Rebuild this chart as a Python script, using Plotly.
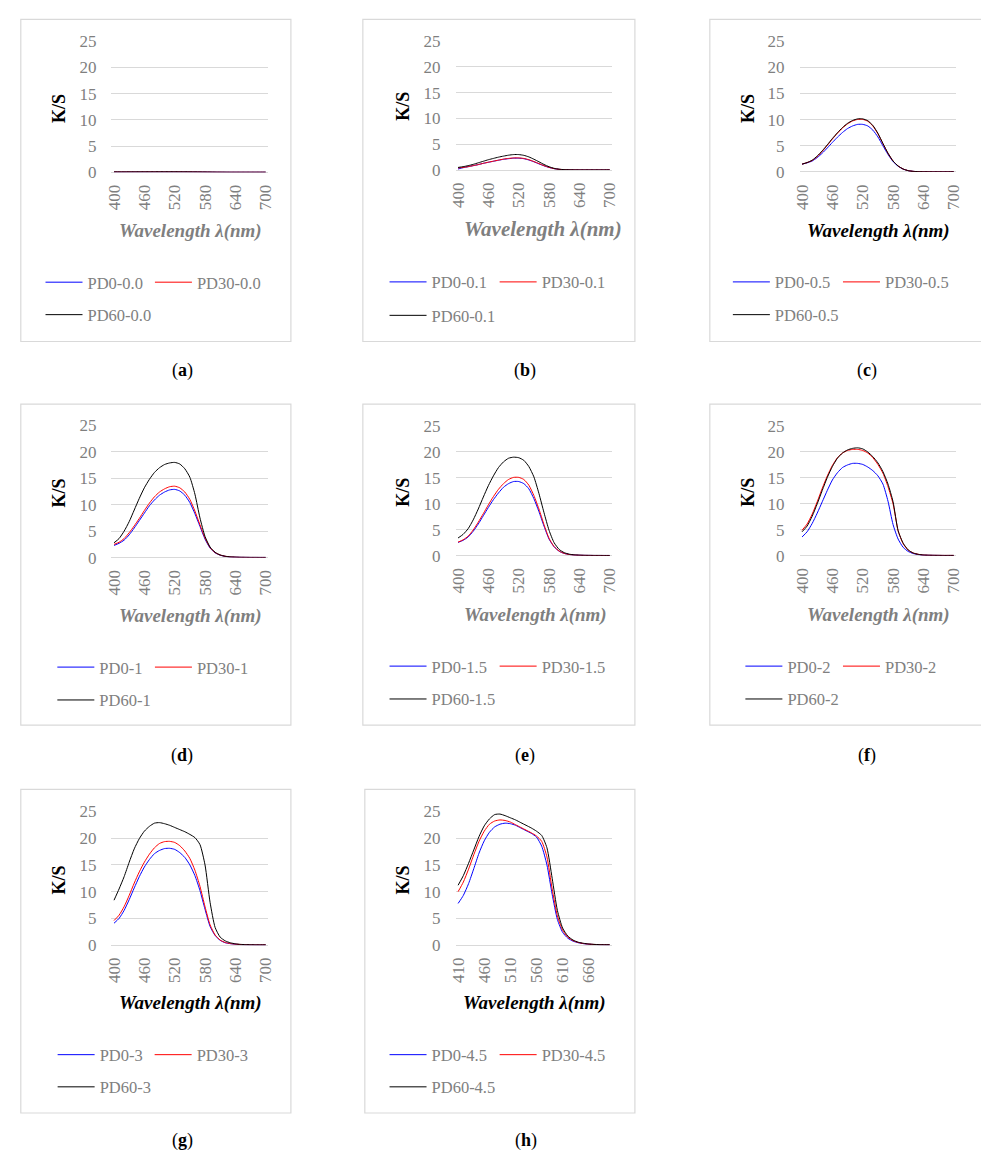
import plotly.graph_objects as go

W, H = 981, 1164

# Wavelength categories (nm)
wl = [400, 410, 420, 430, 440, 450, 460, 470, 480, 490, 500, 510, 520, 530, 540, 550,
      560, 570, 580, 590, 600, 610, 620, 630, 640, 650, 660, 670, 680, 690, 700]
wl_h = wl[1:]

ticks_std = [400, 460, 520, 580, 640, 700]
ticks_h = [410, 460, 510, 560, 610, 660]

# K/S values, one list per sample
a_pd0 = [0.05, 0.05, 0.05, 0.06, 0.06, 0.06, 0.06, 0.07, 0.07, 0.07, 0.07, 0.07, 0.07, 0.07, 0.07, 0.06,
         0.06, 0.05, 0.04, 0.03, 0.02, 0.02, 0.01, 0.01, 0.01, 0.01, 0.01, 0.01, 0.01, 0.01, 0.01]
a_pd30 = [0.06, 0.06, 0.06, 0.07, 0.07, 0.07, 0.08, 0.08, 0.08, 0.08, 0.08, 0.08, 0.08, 0.08, 0.07, 0.07,
          0.06, 0.05, 0.04, 0.03, 0.02, 0.02, 0.01, 0.01, 0.01, 0.01, 0.01, 0.01, 0.01, 0.01, 0.01]
a_pd60 = [0.07, 0.07, 0.07, 0.08, 0.08, 0.09, 0.09, 0.09, 0.09, 0.10, 0.10, 0.10, 0.10, 0.09, 0.09, 0.08,
          0.07, 0.06, 0.05, 0.04, 0.03, 0.02, 0.02, 0.01, 0.01, 0.01, 0.01, 0.01, 0.01, 0.01, 0.01]

b_pd0 = [0.20, 0.45, 0.65, 0.85, 1.05, 1.30, 1.50, 1.70, 1.90, 2.08, 2.20, 2.30, 2.30, 2.20, 1.95, 1.60,
         1.20, 0.82, 0.50, 0.26, 0.13, 0.07, 0.04, 0.03, 0.02, 0.02, 0.02, 0.02, 0.02, 0.02, 0.02]
b_pd30 = [0.40, 0.50, 0.65, 0.85, 1.05, 1.30, 1.52, 1.72, 1.92, 2.12, 2.25, 2.35, 2.35, 2.25, 2.00, 1.65,
          1.25, 0.85, 0.52, 0.27, 0.14, 0.07, 0.04, 0.03, 0.02, 0.02, 0.02, 0.02, 0.02, 0.02, 0.02]
b_pd60 = [0.50, 0.65, 0.85, 1.10, 1.40, 1.70, 2.00, 2.25, 2.50, 2.70, 2.88, 3.00, 3.00, 2.85, 2.55, 2.10,
          1.60, 1.08, 0.64, 0.33, 0.16, 0.08, 0.05, 0.03, 0.02, 0.02, 0.02, 0.02, 0.02, 0.02, 0.02]

c_pd0 = [1.50, 1.75, 2.10, 2.75, 3.60, 4.60, 5.65, 6.65, 7.55, 8.30, 8.80, 9.10, 9.10, 8.80, 8.00, 6.70,
         5.00, 3.35, 2.00, 1.10, 0.55, 0.25, 0.12, 0.06, 0.04, 0.03, 0.02, 0.02, 0.02, 0.02, 0.02]
c_pd30 = [1.50, 1.80, 2.20, 2.95, 3.95, 5.10, 6.30, 7.40, 8.40, 9.20, 9.75, 10.05, 10.05, 9.70, 8.80, 7.30,
          5.40, 3.55, 2.10, 1.15, 0.57, 0.26, 0.12, 0.06, 0.04, 0.03, 0.02, 0.02, 0.02, 0.02, 0.02]
c_pd60 = [1.50, 1.80, 2.25, 3.05, 4.05, 5.20, 6.40, 7.50, 8.50, 9.30, 9.85, 10.15, 10.15, 9.80, 8.90, 7.40,
          5.45, 3.60, 2.10, 1.15, 0.57, 0.26, 0.12, 0.06, 0.04, 0.03, 0.02, 0.02, 0.02, 0.02, 0.02]

d_pd0 = [2.30, 2.70, 3.30, 4.30, 5.60, 7.00, 8.40, 9.80, 10.90, 11.80, 12.40, 12.80, 12.90, 12.60, 11.80, 10.40,
         8.30, 5.90, 3.50, 1.80, 0.90, 0.45, 0.23, 0.12, 0.08, 0.05, 0.04, 0.03, 0.03, 0.03, 0.03]
d_pd30 = [2.50, 2.90, 3.60, 4.70, 6.00, 7.40, 8.90, 10.30, 11.50, 12.40, 13.00, 13.40, 13.50, 13.20, 12.40, 11.00,
          8.80, 6.20, 3.70, 1.90, 0.95, 0.48, 0.25, 0.13, 0.08, 0.05, 0.04, 0.03, 0.03, 0.03, 0.03]
d_pd60 = [2.80, 3.60, 5.00, 6.80, 9.00, 11.20, 13.20, 14.80, 16.10, 17.00, 17.60, 17.90, 18.00, 17.70, 16.80, 15.20,
          12.00, 7.50, 4.00, 2.00, 1.00, 0.50, 0.25, 0.14, 0.09, 0.06, 0.05, 0.04, 0.04, 0.03, 0.03]

e_pd0 = [2.55, 2.95, 3.60, 4.70, 6.10, 7.70, 9.30, 10.80, 12.10, 13.20, 13.90, 14.30, 14.30, 13.90, 12.90, 11.00,
         8.50, 5.70, 3.20, 1.70, 0.85, 0.42, 0.22, 0.12, 0.08, 0.05, 0.04, 0.03, 0.03, 0.03, 0.03]
e_pd30 = [2.60, 3.05, 3.75, 4.95, 6.45, 8.10, 9.80, 11.40, 12.80, 13.90, 14.70, 15.10, 15.10, 14.70, 13.60, 11.60,
          9.00, 6.00, 3.35, 1.75, 0.88, 0.43, 0.22, 0.12, 0.08, 0.05, 0.04, 0.03, 0.03, 0.03, 0.03]
e_pd60 = [3.40, 4.10, 5.20, 6.90, 9.00, 11.30, 13.50, 15.40, 17.00, 18.10, 18.80, 19.00, 18.90, 18.40, 17.20, 15.20,
          12.00, 8.30, 4.90, 2.50, 1.20, 0.58, 0.28, 0.15, 0.09, 0.06, 0.05, 0.04, 0.04, 0.03, 0.03]

f_pd0 = [3.60, 4.60, 6.20, 8.20, 10.40, 12.60, 14.60, 16.00, 17.00, 17.50, 17.80, 17.80, 17.60, 17.10, 16.40, 15.40,
         13.80, 10.50, 6.00, 3.20, 1.60, 0.80, 0.40, 0.20, 0.10, 0.07, 0.05, 0.04, 0.03, 0.03, 0.03]
f_pd30 = [4.90, 6.10, 8.00, 10.40, 13.00, 15.40, 17.40, 18.90, 19.80, 20.30, 20.50, 20.50, 20.30, 19.80, 18.90, 17.60,
          15.90, 13.30, 10.00, 4.80, 2.30, 1.05, 0.50, 0.25, 0.12, 0.08, 0.06, 0.05, 0.04, 0.04, 0.04]
f_pd60 = [4.60, 5.70, 7.60, 10.00, 12.60, 15.10, 17.20, 18.80, 19.80, 20.40, 20.70, 20.80, 20.60, 20.00, 19.10, 17.90,
          16.20, 13.80, 10.40, 4.80, 2.40, 1.10, 0.50, 0.25, 0.12, 0.08, 0.06, 0.05, 0.04, 0.04, 0.04]

g_pd0 = [4.10, 5.00, 6.50, 8.50, 10.70, 12.80, 14.60, 16.00, 17.10, 17.70, 18.05, 18.10, 17.90, 17.30, 16.40, 15.00,
         13.00, 10.20, 6.70, 3.50, 1.80, 0.90, 0.45, 0.28, 0.18, 0.10, 0.07, 0.05, 0.04, 0.04, 0.04]
g_pd30 = [4.60, 5.60, 7.20, 9.30, 11.60, 13.70, 15.50, 17.00, 18.20, 19.00, 19.35, 19.40, 19.20, 18.60, 17.60, 16.20,
          14.00, 11.00, 7.20, 3.80, 1.90, 0.95, 0.50, 0.30, 0.20, 0.12, 0.08, 0.06, 0.05, 0.05, 0.05]
g_pd60 = [8.40, 10.50, 12.80, 15.50, 18.00, 19.90, 21.30, 22.20, 22.80, 22.90, 22.70, 22.40, 22.00, 21.60, 21.20, 20.70,
          20.10, 18.80, 15.00, 8.00, 3.30, 1.50, 0.80, 0.45, 0.25, 0.15, 0.10, 0.08, 0.06, 0.05, 0.05]

h_pd0 = [7.80, 9.30, 11.50, 14.30, 17.20, 19.50, 21.10, 22.10, 22.60, 22.80, 22.70, 22.40, 21.90, 21.40, 20.90,
         20.20, 18.50, 15.00, 9.50, 4.80, 2.40, 1.30, 0.75, 0.45, 0.28, 0.18, 0.12, 0.08, 0.06, 0.05]
h_pd30 = [10.00, 11.80, 14.20, 16.90, 19.40, 21.30, 22.60, 23.20, 23.40, 23.30, 23.00, 22.50, 22.00, 21.50, 21.00,
          20.40, 19.40, 16.50, 10.50, 5.50, 2.80, 1.50, 0.85, 0.50, 0.30, 0.20, 0.13, 0.09, 0.07, 0.06]
h_pd60 = [11.20, 13.00, 15.30, 17.80, 20.30, 22.30, 23.60, 24.40, 24.50, 24.20, 23.80, 23.40, 22.90, 22.40, 21.90,
          21.30, 20.50, 18.20, 12.50, 6.50, 3.20, 1.70, 0.95, 0.55, 0.35, 0.22, 0.15, 0.10, 0.08, 0.07]

SERIES_COLORS = ["#0000FF", "#FF0000", "#000000"]
GRID = "#D9D9D9"
TICK_GRAY = "#7F7F7F"
FONT = "Liberation Serif"

# Panel layout in pixels
panels = [
    dict(tag="a", suffix="0.0", x=wl, data=[a_pd0, a_pd30, a_pd60], ticks=ticks_std,
         box=(14, 10.5, 288, 338), plot=(106, 32.7, 265, 166),
         ks=(52.7, 100.7), wave=(186, 226, 19, TICK_GRAY), lab=(178, 367),
         leg=(46, 157, 278, 311)),
    dict(tag="b", suffix="0.1", x=wl, data=[b_pd0, b_pd30, b_pd60], ticks=ticks_std,
         box=(361, 10.5, 637, 338), plot=(455, 32.7, 614, 163.7),
         ks=(401.7, 98.3), wave=(543.5, 223.3, 21, TICK_GRAY), lab=(526, 367),
         leg=(395, 506.7, 277.7, 311.7)),
    dict(tag="c", suffix="0.5", x=wl, data=[c_pd0, c_pd30, c_pd60], ticks=ticks_std,
         box=(713, 10.5, 995, 338), plot=(804, 32.7, 963, 165.7),
         ks=(751.7, 100.7), wave=(884, 226, 19, "#000000"), lab=(872, 367),
         leg=(743.3, 855, 277.7, 311)),
    dict(tag="d", suffix="1", x=wl, data=[d_pd0, d_pd30, d_pd60], ticks=ticks_std,
         box=(14, 401.7, 288, 728), plot=(106, 423.3, 265, 557.7),
         ks=(52.7, 491.7), wave=(186, 617.3, 19, TICK_GRAY), lab=(178, 759),
         leg=(58, 157, 669.3, 702.7)),
    dict(tag="e", suffix="1.5", x=wl, data=[e_pd0, e_pd30, e_pd60], ticks=ticks_std,
         box=(361, 401.7, 637, 728), plot=(455, 424, 614, 555.7),
         ks=(401.7, 490.7), wave=(535.7, 616, 19, TICK_GRAY), lab=(526, 759),
         leg=(395, 506.7, 668.3, 701.7)),
    dict(tag="f", suffix="2", x=wl, data=[f_pd0, f_pd30, f_pd60], ticks=ticks_std,
         box=(713, 401.7, 995, 728), plot=(804, 424, 963, 555.7),
         ks=(751.7, 490.7), wave=(884, 616, 19, TICK_GRAY), lab=(872, 759),
         leg=(756, 855, 668.3, 701.7)),
    dict(tag="g", suffix="3", x=wl, data=[g_pd0, g_pd30, g_pd60], ticks=ticks_std,
         box=(14, 793.3, 288, 1122.3), plot=(106, 815.7, 265, 951.7),
         ks=(52.7, 885), wave=(186, 1010, 19, "#000000"), lab=(178, 1150),
         leg=(58.3, 156.7, 1063.3, 1096)),
    dict(tag="h", suffix="4.5", x=wl_h, data=[h_pd0, h_pd30, h_pd60], ticks=ticks_h,
         box=(363, 793.3, 637, 1122.3), plot=(455, 815.7, 614, 951.7),
         ks=(401.7, 885), wave=(535, 1010, 19, "#000000"), lab=(527, 1150),
         leg=(395, 506.7, 1063.3, 1096)),
]


def px(x):
    return x / W


def py(y):
    return 1 - y / H


fig = go.Figure()
shapes, annotations = [], []
layout_axes = {}
legend_defs = {}
leg_count = 0

for i, p in enumerate(panels):
    n = "" if i == 0 else str(i + 1)
    xa, ya = "x" + n, "y" + n
    x0, y0, x1, y1 = p["plot"]
    step = p["x"][1] - p["x"][0]
    layout_axes["xaxis" + n] = dict(
        domain=[px(x0), px(x1)], anchor=ya,
        range=[p["x"][0] - step / 2, p["x"][-1] + step / 2],
        tickmode="array", tickvals=p["ticks"], ticktext=[str(t) for t in p["ticks"]],
        tickangle=-90, showgrid=False, showline=False, zeroline=False, ticks="",
        tickfont=dict(family=FONT, size=17, color=TICK_GRAY), ticklabelstandoff=8,
        fixedrange=True,
    )
    layout_axes["yaxis" + n] = dict(
        domain=[py(y1), py(y0)], anchor=xa, range=[0, 25], dtick=5, tick0=0,
        showgrid=True, gridcolor=GRID, gridwidth=1.3, zeroline=True, zerolinecolor=GRID,
        zerolinewidth=1.3, showline=False, ticks="",
        tickfont=dict(family=FONT, size=17, color=TICK_GRAY), ticklabelstandoff=14,
        fixedrange=True,
    )

    lx0, lx1, ly0, ly1 = p["leg"]
    positions = [(lx0, ly0), (lx1, ly0), (lx0, ly1)]
    names = ["PD0-", "PD30-", "PD60-"]
    for k, (vals, col, nm) in enumerate(zip(p["data"], SERIES_COLORS, names)):
        leg_count += 1
        lkey = "legend" if leg_count == 1 else "legend" + str(leg_count)
        fig.add_trace(go.Scatter(
            x=p["x"], y=vals, mode="lines", name=nm + p["suffix"],
            line=dict(color=col, width=1, shape="spline", smoothing=0.6),
            xaxis=xa, yaxis=ya, legend=lkey, hoverinfo="x+y+name",
        ))
        lxp, lyp = positions[k]
        legend_defs[lkey] = dict(
            x=px(lxp - 12), y=py(lyp), xanchor="left", yanchor="middle",
            orientation="h", bgcolor="rgba(0,0,0,0)", borderwidth=0,
            font=dict(family=FONT, size=16.5, color="#808080"),
            itemwidth=37, tracegroupgap=0,
        )

    bx0, by0, bx1, by1 = p["box"]
    shapes.append(dict(type="rect", xref="paper", yref="paper",
                       x0=px(bx0), x1=px(bx1), y0=py(by1), y1=py(by0),
                       line=dict(color=GRID, width=1.2), fillcolor="rgba(0,0,0,0)", layer="below"))

    kx, ky = p["ks"]
    annotations.append(dict(text="<b>K/S</b>", x=px(kx), y=py(ky), xref="paper", yref="paper",
                            showarrow=False, textangle=-90, xanchor="center", yanchor="middle",
                            font=dict(family=FONT, size=18, color="#000000")))
    wx, wy, wsize, wcol = p["wave"]
    annotations.append(dict(text="<b><i>Wavelength λ(nm)</i></b>", x=px(wx), y=py(wy),
                            xref="paper", yref="paper", showarrow=False,
                            xanchor="center", yanchor="middle",
                            font=dict(family=FONT, size=wsize, color=wcol)))
    tx, ty = p["lab"]
    annotations.append(dict(text="(<b>" + p["tag"] + "</b>)", x=px(tx), y=py(ty),
                            xref="paper", yref="paper", showarrow=False,
                            xanchor="center", yanchor="middle",
                            font=dict(family=FONT, size=18, color="#000000")))

fig.update_layout(
    width=W, height=H, margin=dict(l=0, r=0, t=0, b=0),
    paper_bgcolor="#FFFFFF", plot_bgcolor="#FFFFFF",
    shapes=shapes, annotations=annotations, showlegend=True,
    **layout_axes, **legend_defs,
)

fig.write_html("out.html")
